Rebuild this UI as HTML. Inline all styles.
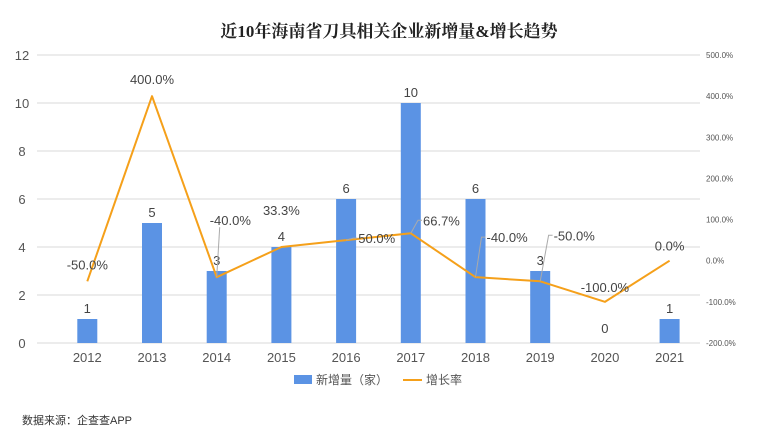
<!DOCTYPE html>
<html><head><meta charset="utf-8"><style>
body{margin:0;background:#fff;width:778px;height:441px;overflow:hidden}
text{font-family:"Liberation Sans","Noto Sans CJK SC",sans-serif}
</style></head><body>
<svg id="chart" width="778" height="441" xmlns="http://www.w3.org/2000/svg">
<text x="389" y="37" text-anchor="middle" font-size="17" font-weight="bold" fill="#222" style="font-family:'Liberation Serif','Noto Serif CJK SC',serif">近10年海南省刀具相关企业新增量&amp;增长趋势</text>
<g id="grid"></g><g id="bars"></g><g id="line"></g><g id="labels"></g>
<g>
<rect x="294" y="375" width="18" height="9" fill="#5b93e4"/>
<text x="316" y="384" font-size="12" fill="#555">新增量（家）</text>
<line x1="403" y1="380" x2="422" y2="380" stroke="#f5a01a" stroke-width="2"/>
<text x="426" y="384" font-size="12" fill="#555">增长率</text>
</g>
<text x="22" y="424" font-size="11" fill="#333">数据来源：企查查APP</text>
</svg>
<script>
const categories=["2012","2013","2014","2015","2016","2017","2018","2019","2020","2021"];
const counts=[1,5,3,4,6,10,6,3,0,1];
const growth=[-50,400,-40,33.3,50,66.7,-40,-50,-100,0];
const leftTicks=[0,2,4,6,8,10,12];
const rightTicks=[-200,-100,0,100,200,300,400,500];
const NS="http://www.w3.org/2000/svg";
const x0=55,step=64.7,yBase=343,yTop=55;
const xS=i=>x0+32.3+i*step;
const yL=v=>yBase-(v/12)*(yBase-yTop);
const yR=v=>yBase-((v+200)/700)*(yBase-yTop);
function mk(tag,attrs,parent,txt){const e=document.createElementNS(NS,tag);for(const k in attrs)e.setAttribute(k,attrs[k]);if(txt!=null)e.textContent=txt;parent.appendChild(e);return e;}
const grid=document.getElementById('grid'),bars=document.getElementById('bars'),line=document.getElementById('line'),labels=document.getElementById('labels');
leftTicks.forEach(t=>{
 const g=mk('line',{x1:37,x2:700,y1:yL(t),y2:yL(t),stroke:'#d9d9d9','stroke-width':1},grid);
 
 
 const tx=mk('text',{x:22,y:yL(t)+5,'text-anchor':'middle','font-size':13,fill:'#555'},grid,t);
 
 
});
rightTicks.forEach(t=>{
 const tx=mk('text',{x:706,y:yR(t)+3,'font-size':8,fill:'#555'},grid,t.toFixed(1)+'%');
 
 
});
categories.forEach((c,i)=>{
 const tx=mk('text',{x:xS(i),y:362,'text-anchor':'middle','font-size':13,fill:'#555'},grid,c);
 
 
 if(counts[i]>0){
  const b=mk('rect',{x:xS(i)-10,y:yL(counts[i]),width:20,height:yBase-yL(counts[i]),fill:'#5b93e4'},bars);
  
  
 }
 const bl=mk('text',{x:xS(i),y:yL(counts[i])-6,'text-anchor':'middle','font-size':13,fill:'#444'},labels,counts[i]);
 if(counts[i]===0)bl.setAttribute('y',yBase-10);
 
 
});
const pts=growth.map((v,i)=>xS(i)+','+yR(v)).join(' ');
const pl=mk('polyline',{points:pts,fill:'none',stroke:'#f5a01a','stroke-width':2,'stroke-linejoin':'round'},line);


// label offsets (dx,dy of label anchor relative to point), leader flag
const lo=[[0,-12,0],[0,-12,0],[-2,-50,1],[0,-32,0],[24,-2,1],[24,-13,1],[20,-40,1],[28,-46,1],[0,-10,0],[0,-10,0]];
growth.forEach((v,i)=>{
 const px=xS(i),py=yR(v);const o=lo[i];
 let tx;
 const txt=v.toFixed(1)+'%';
 if(o[2]){
  const lx=px+o[0]*0.3,ly=py+o[1];
  const ld=mk('polyline',{points:`${px},${py} ${lx},${ly} ${lx+4},${ly}`,fill:'none',stroke:'#aaa','stroke-width':1},labels);
  
  
  tx=mk('text',{x:lx+5,y:ly+5,'font-size':13,fill:'#444'},labels,txt);
  if(i===2){tx.setAttribute('x',px-7);tx.setAttribute('y',ly-2);ld.setAttribute('points',`${px},${py} ${px+3},${ly} `);}
 }else{
  tx=mk('text',{x:px+o[0],y:py+o[1],'text-anchor':'middle','font-size':13,fill:'#444'},labels,txt);
 }
 
 
});
</script>
</body></html>
